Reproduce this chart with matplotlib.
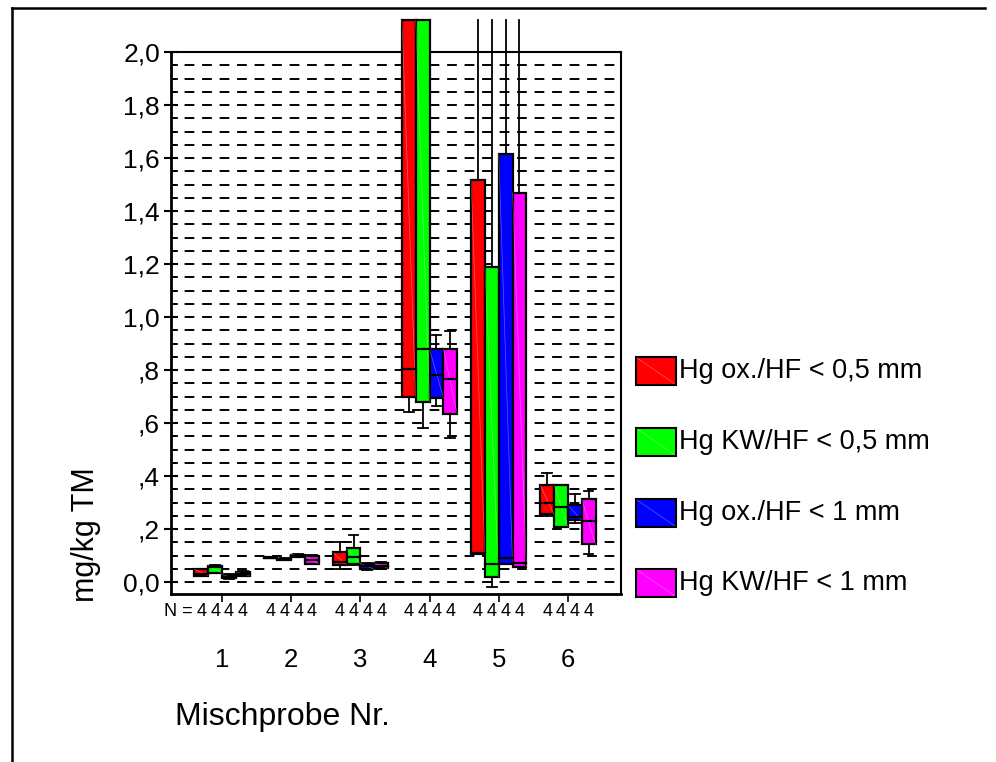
import numpy as np
import matplotlib.pyplot as plt
from matplotlib.patches import Rectangle
from matplotlib.lines import Line2D
from matplotlib.ticker import MultipleLocator, FuncFormatter
from matplotlib.transforms import blended_transform_factory

plt.rcParams['font.family'] = ['Liberation Sans', 'DejaVu Sans']

groups = [1, 2, 3, 4, 5, 6]
series_names = ['Hg ox./HF < 0,5 mm', 'Hg KW/HF < 0,5 mm',
                'Hg ox./HF < 1 mm', 'Hg KW/HF < 1 mm']
colors = ['#ff0000', '#00ff00', '#0000ff', '#ff00ff']
n_per_box = [4, 4, 4, 4]

# box statistics per group: whisker low, Q1, median, Q3, whisker high (mg/kg TM)
hg_ox_05 = [[0.022, 0.024, 0.030, 0.048, 0.050],
            [0.090, 0.090, 0.092, 0.094, 0.094],
            [0.048, 0.064, 0.075, 0.112, 0.152],
            [0.643, 0.699, 0.804, 2.60, 3.20],
            [0.106, 0.106, 0.110, 1.517, 3.00],
            [0.249, 0.255, 0.300, 0.366, 0.410]]
hg_kw_05 = [[0.033, 0.033, 0.058, 0.062, 0.066],
            [0.083, 0.084, 0.086, 0.088, 0.089],
            [0.066, 0.068, 0.093, 0.127, 0.177],
            [0.582, 0.680, 0.878, 2.80, 3.40],
            [-0.020, 0.018, 0.070, 1.190, 3.10],
            [0.209, 0.209, 0.284, 0.366, 0.366]]
hg_ox_1 = [[0.012, 0.015, 0.020, 0.028, 0.032],
           [0.093, 0.094, 0.100, 0.104, 0.105],
           [0.046, 0.048, 0.062, 0.070, 0.072],
           [0.664, 0.695, 0.781, 0.878, 0.932],
           [0.070, 0.070, 0.089, 1.615, 3.00],
           [0.224, 0.234, 0.246, 0.290, 0.331]]
hg_kw_1 = [[0.022, 0.023, 0.030, 0.039, 0.040],
           [0.067, 0.068, 0.083, 0.100, 0.102],
           [0.050, 0.052, 0.062, 0.073, 0.075],
           [0.545, 0.634, 0.766, 0.878, 0.947],
           [0.058, 0.058, 0.073, 1.468, 3.00],
           [0.105, 0.142, 0.231, 0.313, 0.343]]
all_series = [hg_ox_05, hg_kw_05, hg_ox_1, hg_kw_1]

y_show_max = 2.12   # boxes and whiskers run out above the frame up to here
box_w = 0.2
offsets = [-0.3, -0.1, 0.1, 0.3]
cap_hw = 0.07

W, H = 996, 762
fig = plt.figure(figsize=(W / 100, H / 100), dpi=100)
ax = fig.add_axes([171 / W, 1 - 594 / H, (621 - 171) / W, (594 - 52) / H])
ax.set_xlim(0.261, 6.768)
ax.set_ylim(-0.045, 2.0)

# dashed grid every 0.05
ax.yaxis.set_major_locator(MultipleLocator(0.2))
ax.yaxis.set_minor_locator(MultipleLocator(0.05))
ax.grid(True, which='both', axis='y', color='black', linestyle=(2, (5, 4)), linewidth=1.4)
ax.set_axisbelow(True)


def fmt(v, pos):
    s = f'{v:.1f}'.replace('.', ',')
    if s.startswith('0,') and abs(v) > 1e-9:
        s = s[1:]
    return s


ax.yaxis.set_major_formatter(FuncFormatter(fmt))
ax.tick_params(axis='y', which='major', direction='inout', length=10, width=1.5,
               labelsize=19, pad=3)
ax.tick_params(axis='y', which='minor', direction='in', length=5, width=1.2)
ax.set_xticks(groups)
ax.set_xticklabels([str(g) for g in groups])
ax.tick_params(axis='x', direction='out', length=6, width=1.2, labelsize=18.5, pad=33)

for side in ['left', 'bottom']:
    ax.spines[side].set_linewidth(2.0)
for side in ['top', 'right']:
    ax.spines[side].set_linewidth(1.5)

for si, data in enumerate(all_series):
    for gi, g in enumerate(groups):
        lo, q1, med, q3, hi = [min(v, y_show_max) for v in data[gi]]
        x = g + offsets[si]
        # whiskers
        ax.add_line(Line2D([x, x], [lo, hi], color='black', lw=1.3, zorder=3, clip_on=False))
        if data[gi][4] < y_show_max:
            ax.add_line(Line2D([x - cap_hw, x + cap_hw], [hi, hi], color='black', lw=1.3,
                               zorder=3, clip_on=False))
        ax.add_line(Line2D([x - cap_hw, x + cap_hw], [lo, lo], color='black', lw=1.3,
                           zorder=3, clip_on=False))
        # box with its faint diagonal hatch line
        ax.add_patch(Rectangle((x - box_w / 2, q1), box_w, q3 - q1, facecolor=colors[si],
                               edgecolor='black', lw=1.6, zorder=4, clip_on=False))
        ax.add_line(Line2D([x - box_w / 2, x + box_w / 2], [q3, q1], color='white', lw=0.5,
                           alpha=0.35, zorder=4.5, clip_on=False))
        ax.add_line(Line2D([x - box_w / 2, x + box_w / 2], [med, med], color='black', lw=1.6,
                           zorder=5, clip_on=False))

# sample counts below the axis
tr = blended_transform_factory(ax.transData, ax.transAxes)
ax.text(groups[0] + offsets[0] - 0.12, -0.033, 'N =', transform=tr, ha='right', va='center',
        fontsize=13)
for gi, g in enumerate(groups):
    for si in range(len(all_series)):
        ax.text(g + offsets[si], -0.033, str(n_per_box[si]), transform=tr, ha='center',
                va='center', fontsize=13)

ax.set_ylabel('mg/kg TM', fontsize=22)
ax.yaxis.set_label_coords(-0.19, 0.109, transform=ax.transAxes)
ax.yaxis.label.set_va('center')
fig.text(175 / W, 1 - 717 / H, 'Mischprobe Nr.', fontsize=23, ha='left', va='center')

# legend drawn as colour patches with labels
leg_y = [371, 442, 513, 583]
for si, name in enumerate(series_names):
    yc = leg_y[si]
    fig.patches.append(Rectangle((636 / W, 1 - (yc + 14) / H), 40 / W, 28 / H,
                                 transform=fig.transFigure, facecolor=colors[si],
                                 edgecolor='black', lw=1.5))
    fig.add_artist(Line2D([637 / W, 675 / W], [1 - (yc - 13) / H, 1 - (yc + 13) / H],
                          color='white', lw=0.5, alpha=0.35))
    fig.text(679 / W, 1 - yc / H, name, fontsize=19.5, ha='left', va='center')

# outer frame
fig.add_artist(Line2D([12 / W, 12 / W], [0, 1 - 8 / H], color='black', lw=1.8))
fig.add_artist(Line2D([12 / W, 985 / W], [1 - 8 / H, 1 - 8 / H], color='black', lw=1.8))

fig.savefig('out.png', dpi=100)
